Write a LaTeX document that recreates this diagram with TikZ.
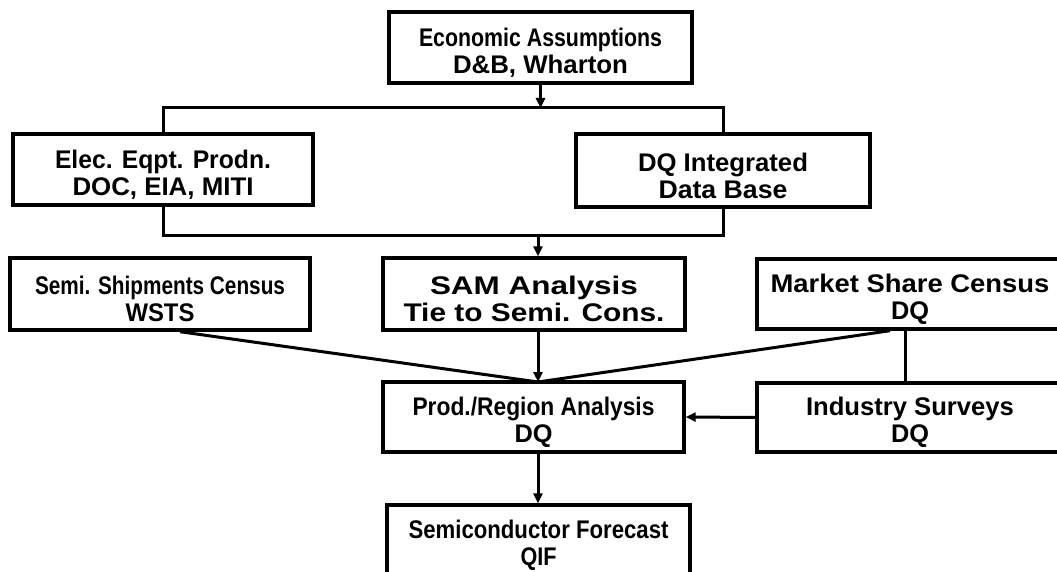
\documentclass[tikz,border=0pt]{standalone}
\usepackage{fontspec}
\usepackage{graphicx}
\setmainfont{Liberation Sans}
\usetikzlibrary{arrows.meta,calc}

% set one line of text, stretched or squeezed horizontally to a given width (pt)
\newcommand{\fitw}[2]{%
  \setbox0=\hbox{#2}%
  \pgfmathsetmacro{\fitfac}{#1/\wd0}%
  \scalebox{\fitfac}[1]{\box0}}
% two centred lines; the strut sits the pair a little lower in its box
\newcommand{\twolines}[4]{\rule{0pt}{29pt}\fitw{#1}{#2}\\\fitw{#3}{#4}}

\tikzset{
  box/.style={draw=black, line width=3.4pt, fill=white, align=center,
    inner sep=0pt, minimum height=71pt,
    font=\fontsize{25.5}{27}\selectfont\bfseries},
  conn/.style={draw=black, line width=3pt},
  flow/.style={conn, -{Triangle[length=10pt,width=9pt]}},
}

\begin{document}
\begin{tikzpicture}[x=1pt,y=-1pt]
\useasboundingbox (0,0) rectangle (1057,572);
\clip (0,0) rectangle (1057,572);
\fill[white] (0,0) rectangle (1057,572);

% boxes
\node[box, minimum width=303pt] (econ) at (540.5,47.5)
  {\twolines{243}{Economic Assumptions}{175}{D\&B, Wharton}};
\node[box, minimum width=300pt] (elec) at (163,169.5)
  {\twolines{216}{Elec. Eqpt. Prodn.}{181}{DOC, EIA, MITI}};
\node[box, minimum width=294pt, minimum height=73pt] (dq) at (723,170.5)
  {\twolines{170}{DQ Integrated}{129}{Data Base}};
\node[box, minimum width=300pt, minimum height=72pt] (semi) at (160,294)
  {\twolines{250}{Semi. Shipments Census}{69}{WSTS}};
\node[box, minimum width=302pt, minimum height=72pt] (sam) at (534,294)
  {\twolines{208}{SAM Analysis}{261}{Tie to Semi. Cons.}};
\node[box, minimum width=306pt, minimum height=70pt] (mkt) at (910,294)
  {\twolines{279}{Market Share Census}{38}{DQ}};
\node[box, minimum width=301pt, minimum height=70pt] (prod) at (533.5,417)
  {\twolines{242}{Prod./Region Analysis}{38}{DQ}};
\node[box, minimum width=306pt, minimum height=69pt] (indus) at (910,417.5)
  {\twolines{208}{Industry Surveys}{38}{DQ}};
\node[box, minimum width=303pt] (semic) at (538.5,540.5)
  {\twolines{260}{Semiconductor Forecast}{36}{QIF}};

% junction points of the branch lines
\coordinate (split) at (540.5,108);
\coordinate (merge) at (538,235);
\coordinate (join) at (538,382);

% economic assumptions feed both sources
\draw[flow] (econ.south) -- (split);
\draw[conn] (elec.north) -- (elec.north |- split) -- (dq.north |- split) -- (dq.north);

% both sources combine into the SAM analysis
\draw[conn] (elec.south) -- (elec.south |- merge) -- (dq.south |- merge) -- (dq.south);
\draw[flow] (merge) -- (merge |- sam.north);

% inputs to the production / region analysis
\draw[flow] (merge |- sam.south) -- (join);
\draw[conn] ($(semi.south)+(20,0)$) -- (join);
\draw[conn] ($(mkt.south)+(-20,0)$) -- (join);
\draw[conn] ($(mkt.south)+(-5,0)$) -- ($(indus.north)+(-5,0)$);
\draw[flow] (indus.west) -- (prod.east);

% final forecast
\draw[flow] (merge |- prod.south) -- (merge |- semic.north);
\end{tikzpicture}
\end{document}
